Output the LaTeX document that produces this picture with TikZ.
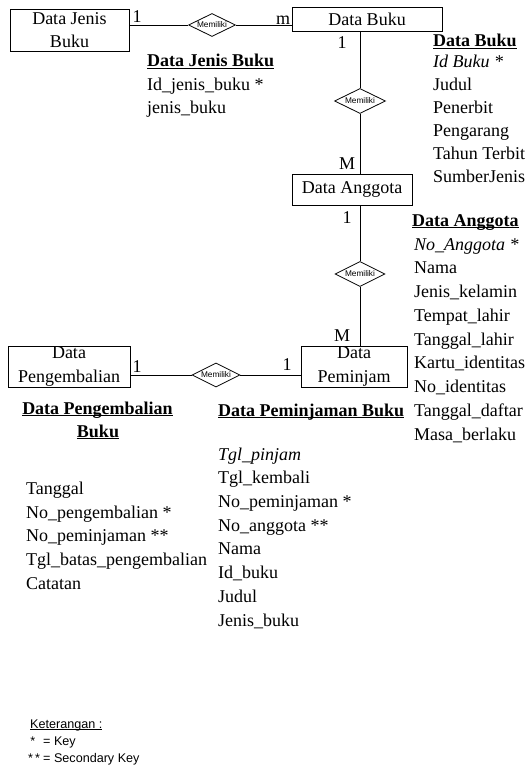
\documentclass[tikz,border=0pt]{standalone}
\usepackage{fontspec}
\setmainfont{Liberation Serif}
\newfontfamily\legendfont{Liberation Sans}
\usetikzlibrary{shapes.geometric}
\newcommand\hdline[1]{\setbox0\hbox{\bfseries #1}\rlap{\rule[-2.2pt]{\wd0}{1.1pt}}\box0}
\newcommand\legline[1]{\setbox0\hbox{#1}\rlap{\rule[-1.8pt]{\wd0}{0.8pt}}\box0}
\begin{document}
\begin{tikzpicture}[x=1pt,y=-1pt,
  every node/.style={inner sep=0pt},
  entity/.style={draw, line width=0.9pt, align=center, font=\fontsize{18}{23.5}\selectfont},
  rel/.style={draw, diamond, aspect=2, line width=0.8pt, font=\legendfont\fontsize{8.3}{8.3}\selectfont},
  card/.style={font=\fontsize{18}{20}\selectfont, text height=12pt, text depth=0pt},
  attr/.style={anchor=west, font=\fontsize{18}{20}\selectfont, text height=12.5pt, text depth=4.5pt},
  hdr/.style={attr},
  leg/.style={anchor=west, font=\legendfont\fontsize{12.6}{14}\selectfont, text height=9pt, text depth=2.5pt},
  conn/.style={line width=0.8pt}]
\useasboundingbox (0,0) rectangle (530,767);

% entities
\node[entity, minimum width=119, minimum height=42] (jenis) at (69.5,30) {Data Jenis\\Buku};
\node[entity, minimum width=150, minimum height=24] (buku) at (367,19) {Data Buku};
\node[entity, minimum width=120, minimum height=31] (anggota) at (352,189.5) {Data Anggota};
\node[entity, minimum width=122, minimum height=41, font=\fontsize{18}{24}\selectfont] (kembali) at (69,366.5) {Data\\Pengembalian};
\node[entity, minimum width=106, minimum height=41, font=\fontsize{18}{24}\selectfont] (pinjam) at (354,366.5) {Data\\Peminjam};

% relationships
\node[rel, minimum width=47, minimum height=23] (r1) at (212,25) {Memiliki};
\node[rel, minimum width=51, minimum height=25] (r2) at (360,101) {Memiliki};
\node[rel, minimum width=50, minimum height=25] (r3) at (360,274) {Memiliki};
\node[rel, minimum width=48, minimum height=24] (r4) at (216,375) {Memiliki};

% connectors
\draw[conn] (jenis.east |- r1.west) -- (r1.west) (r1.east) -- (buku.west |- r1.east);
\draw[conn] (r2.north |- buku.south) -- (r2.north) (r2.south) -- (r2.south |- anggota.north);
\draw[conn] (r3.north |- anggota.south) -- (r3.north) (r3.south) -- (r3.south |- pinjam.north);
\draw[conn] (kembali.east |- r4.west) -- (r4.west) (r4.east) -- (pinjam.west |- r4.east);

% cardinalities
\node[card] (c1) at (137,17) {1};
\node[card] (c2) at (283,19) {m};
\node[card] (c3) at (342,43) {1};
\node[card] (c4) at (347,164) {M};
\node[card] (c5) at (347,217) {1};
\node[card] (c6) at (342,335) {M};
\node[card] (c7) at (137,366) {1};
\node[card] (c8) at (287,364) {1};

% Data Jenis Buku
\node[hdr] (hj) at (147,63) {\hdline{Data Jenis Buku}};
\node[attr] (j1) at (147,87) {Id\_jenis\_buku *};
\node[attr] (j2) at (147,110) {jenis\_buku};

% Data Buku
\node[hdr] (hb) at (433,43) {\hdline{Data Buku}};
\node[attr] (b1) at (433,64) {\textit{Id Buku *}};
\node[attr] (b2) at (433,87) {Judul};
\node[attr] (b3) at (433,110) {Penerbit};
\node[attr] (b4) at (433,133) {Pengarang};
\node[attr] (b5) at (433,156) {Tahun Terbit};
\node[attr] (b6) at (433,179) {SumberJenis};

% Data Anggota
\node[hdr] (ha) at (412,222) {\hdline{Data Anggota}};
\node[attr] (a1) at (414,246) {\textit{No\_Anggota *}};
\node[attr] (a2) at (414,269.5) {Nama};
\node[attr] (a3) at (414,293) {Jenis\_kelamin};
\node[attr] (a4) at (414,317) {Tempat\_lahir};
\node[attr] (a5) at (414,341) {Tanggal\_lahir};
\node[attr] (a6) at (414,364.5) {Kartu\_identitas};
\node[attr] (a7) at (414,388) {No\_identitas};
\node[attr] (a8) at (414,412) {Tanggal\_daftar};
\node[attr] (a9) at (414,436) {Masa\_berlaku};

% Data Peminjaman Buku
\node[hdr] (hp) at (218,412) {\hdline{Data Peminjaman Buku}};
\node[attr] (p1) at (218,456) {\textit{Tgl\_pinjam}};
\node[attr] (p2) at (218,479) {Tgl\_kembali};
\node[attr] (p3) at (218,503) {No\_peminjaman *};
\node[attr] (p4) at (218,527) {No\_anggota **};
\node[attr] (p5) at (218,550) {Nama};
\node[attr] (p6) at (218,574) {Id\_buku};
\node[attr] (p7) at (218,598) {Judul};
\node[attr] (p8) at (218,622) {Jenis\_buku};

% Data Pengembalian Buku
\node[hdr, anchor=center] (hk1) at (97.5,410) {\hdline{Data Pengembalian}};
\node[hdr, anchor=center] (hk2) at (98,433) {\hdline{Buku}};
\node[attr] (k1) at (26,490) {Tanggal};
\node[attr] (k2) at (26,514) {No\_pengembalian *};
\node[attr] (k3) at (26,537) {No\_peminjaman **};
\node[attr] (k4) at (26,561) {Tgl\_batas\_pengembalian};
\node[attr] (k5) at (26,585) {Catatan};

% legend
\node[leg] (l0) at (30,725) {\legline{Keterangan :}};
\node[leg] (l1) at (28,742) {\makebox[15pt][l]{\,*}= Key};
\node[leg] (l2) at (28,759) {\makebox[15pt][l]{*\kern2pt*}= Secondary Key};
\end{tikzpicture}
\end{document}
